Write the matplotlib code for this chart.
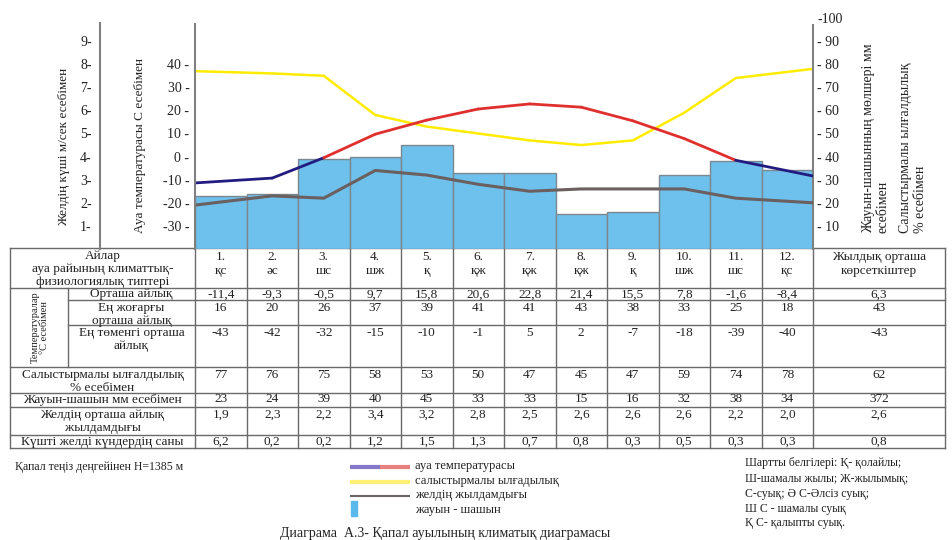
import numpy as np
import matplotlib.pyplot as plt
from matplotlib.patches import Rectangle

plt.rcParams['font.family'] = ['Liberation Serif', 'DejaVu Serif']

month_nums = ["1.", "2.", "3.", "4.", "5.", "6.", "7.", "8.", "9.", "10.", "11.", "12."]
month_types = ["қс", "әс", "шс", "шж", "қ", "қж", "қж", "қж", "қ", "шж", "шс", "қс"]
temp_mean = [-11.4, -9.3, -0.5, 9.7, 15.8, 20.6, 22.8, 21.4, 15.5, 7.8, -1.6, -8.4]
temp_max = [16, 20, 26, 37, 39, 41, 41, 43, 38, 33, 25, 18]
temp_min = [-43, -42, -32, -15, -10, -1, 5, 2, -7, -18, -39, -40]
humidity = [77, 76, 75, 58, 53, 50, 47, 45, 47, 59, 74, 78]
precip = [23, 24, 39, 40, 45, 33, 33, 15, 16, 32, 38, 34]
wind = [1.9, 2.3, 2.2, 3.4, 3.2, 2.8, 2.5, 2.6, 2.6, 2.6, 2.2, 2.0]
windy_days = [6.2, 0.2, 0.2, 1.2, 1.5, 1.3, 0.7, 0.8, 0.3, 0.5, 0.3, 0.3]
annual = [6.3, 43, -43, 62, 372, 2.6, 0.8]

temp_ticks = [-30, -20, -10, 0, 10, 20, 30, 40]
right_ticks = [10, 20, 30, 40, 50, 60, 70, 80, 90, 100]
wind_ticks = [1, 2, 3, 4, 5, 6, 7, 8, 9]

W, H = 952, 540
fig = plt.figure(figsize=(W / 100, H / 100), dpi=100)
TXT = '#222222'
GRID = '#6a6a6a'


def fmt(v, dec):
    return f"{v:.{dec}f}".replace('.', ',')


# overlay in pixel coords for the table and notes
ov = fig.add_axes([0, 0, 1, 1], zorder=0)
ov.set_xlim(0, W)
ov.set_ylim(H, 0)
ov.axis('off')

# chart area (pixels)
L, R, T, B = 195, 813, 18, 249
rect = [L / W, 1 - B / H, (R - L) / W, (B - T) / H]
x_bar = np.arange(12) + 0.5
x_line = x_bar.copy()
x_line[0], x_line[-1] = 0, 12

ax = fig.add_axes(rect, zorder=2)
ax.patch.set_alpha(0)
ax.set_xlim(0, 12)
ax.set_ylim(0, 100)
ax.bar(x_bar, precip, width=1, color='#6ec1ec', edgecolor='#7b8890', linewidth=1)
ax.plot(x_line, humidity, color='#ffec00', lw=1.8)
for s in ['top', 'bottom', 'left']:
    ax.spines[s].set_visible(False)
ax.spines['right'].set_bounds(0, 97)
ax.spines['right'].set_color('#808080')
ax.spines['right'].set_linewidth(1.5)
ax.yaxis.tick_right()
ax.set_yticks(right_ticks)
ax.set_yticklabels([f"- {v}" if v < 100 else f"-{v}" for v in right_ticks], fontsize=10, color=TXT)
ax.tick_params(axis='y', length=0, pad=3)
ax.set_xticks([])

# wind speed (own scale 0..10 on the same area)
ax_w = fig.add_axes(rect, zorder=3)
ax_w.patch.set_alpha(0)
ax_w.set_xlim(0, 12)
ax_w.set_ylim(0, 10)
ax_w.plot(x_line, wind, color='#6b5f5f', lw=2.2)
ax_w.axis('off')

# temperature
ax_t = fig.add_axes(rect, zorder=4)
ax_t.patch.set_alpha(0)
ax_t.set_xlim(0, 12)
ax_t.set_ylim(-40, 60)
for i in range(11):
    seg = temp_mean[i:i + 2]
    c = '#e0302e' if max(seg) > 0 else '#231c80'
    ax_t.plot(x_line[i:i + 2], seg, color=c, lw=2, solid_capstyle='round')
for s in ['top', 'bottom', 'right']:
    ax_t.spines[s].set_visible(False)
ax_t.spines['left'].set_bounds(-40, 57.4)
ax_t.spines['left'].set_color('#808080')
ax_t.spines['left'].set_linewidth(1.5)
ax_t.set_yticks(temp_ticks)
ax_t.set_yticklabels([f"{v} -" for v in temp_ticks], fontsize=10, color=TXT)
ax_t.tick_params(axis='y', length=0, pad=4)
ax_t.set_xticks([])

# separate wind axis at far left
ax_ws = fig.add_axes([100 / W, 1 - B / H, 0.0005, (B - T) / H], zorder=2)
ax_ws.patch.set_alpha(0)
ax_ws.set_ylim(0, 10)
for s in ['top', 'bottom', 'right']:
    ax_ws.spines[s].set_visible(False)
ax_ws.spines['left'].set_bounds(0, 9.78)
ax_ws.spines['left'].set_color('#808080')
ax_ws.spines['left'].set_linewidth(1.5)
ax_ws.set_yticks(wind_ticks)
ax_ws.set_yticklabels([f"{v}-" for v in wind_ticks], fontsize=10, color=TXT)
ax_ws.tick_params(axis='y', length=0, pad=6)
ax_ws.set_xticks([])

# axis titles
fig.text(64 / W, 1 - 147 / H, "Желдің күші м/сек есебімен", rotation=90,
         ha='center', va='center', fontsize=9.5, color=TXT)
fig.text(140 / W, 1 - 145 / H, "Ауа температурасы С есебімен", rotation=90,
         ha='center', va='center', fontsize=9.5, color=TXT)
fig.text(876 / W, 1 - 233 / H, "Жауын-шашынның мөлшері мм\nесебімен", rotation=90,
         ha='center', va='bottom', multialignment='left', fontsize=10, color=TXT, linespacing=1.1)
fig.text(913 / W, 1 - 233 / H, "Салыстырмалы ылғалдылық\n% есебімен", rotation=90,
         ha='center', va='bottom', multialignment='left', fontsize=10, color=TXT, linespacing=1.1)

# --- table ---
TL, TR = 10, 945
sub = 68
col_w = (R - L) / 12
col_edges = [L + k * col_w for k in range(13)]
row_edges = [248, 288, 300, 325, 367, 393, 407, 435, 448]

for i, y in enumerate(row_edges):
    x0 = sub if i in (2, 3) else TL
    ov.plot([x0, TR], [y, y], color=GRID, lw=1)
for x in [TL] + col_edges + [TR]:
    ov.plot([x, x], [row_edges[0], row_edges[-1]], color=GRID, lw=1)
ov.plot([sub, sub], [row_edges[1], row_edges[4]], color=GRID, lw=1)

tfs = 9.5
ov.text((TL + L) / 2, row_edges[0] + 2, "Айлар\nауа райының климаттық-\nфизиологиялық типтері",
        ha='center', va='top', fontsize=tfs, color=TXT, linespacing=1.1)
for k in range(12):
    ov.text(L + (k + 0.5) * col_w, row_edges[0] + 3, f"{month_nums[k]}\n{month_types[k]}",
            ha='center', va='top', fontsize=tfs, color=TXT, linespacing=1.2)
ov.text((R + TR) / 2, row_edges[0] + 3, "Жылдық орташа\nкөрсеткіштер",
        ha='center', va='top', fontsize=tfs, color=TXT, linespacing=1.2)

ov.text((TL + sub) / 2 + 1, (row_edges[1] + row_edges[4]) / 2, "Температуралар\n°С есебімен",
        rotation=90, ha='center', va='center', fontsize=7.5, color=TXT, linespacing=1.1)

row_labels = ["Орташа айлық", "Ең жоғарғы\nорташа айлық", "Ең төменгі орташа\nайлық",
              "Салыстырмалы ылғалдылық\n% есебімен", "Жауын-шашын мм есебімен",
              "Желдің орташа айлық\nжылдамдығы", "Күшті желді күндердің саны"]
row_data = [(temp_mean, 1), (temp_max, 0), (temp_min, 0), (humidity, 0),
            (precip, 0), (wind, 1), (windy_days, 1)]

for r, (lab, (vals, dec)) in enumerate(zip(row_labels, row_data)):
    top = row_edges[r + 1]
    off = 0.5 if r in (0, 4, 6) else 2
    lx = (sub + L) / 2 if r < 3 else (TL + L) / 2
    ov.text(lx, top + off, lab, ha='center', va='top', fontsize=tfs, color=TXT, linespacing=1.1)
    for k, v in enumerate(vals):
        ov.text(L + (k + 0.5) * col_w, top + off, fmt(v, dec), ha='center', va='top',
                fontsize=tfs, color=TXT)
    ov.text((R + TR) / 2, top + off, fmt(annual[r], dec), ha='center', va='top',
            fontsize=tfs, color=TXT)

# --- notes and legend ---
ov.text(15, 467, "Қапал теңіз деңгейінен Н=1385 м", ha='left', va='center', fontsize=8.5, color=TXT)

ov.plot([350, 380], [467, 467], color='#8577c9', lw=3, solid_capstyle='butt')
ov.plot([380, 410], [467, 467], color='#e88080', lw=3, solid_capstyle='butt')
ov.plot([350, 410], [482, 482], color='#fff176', lw=3, solid_capstyle='butt')
ov.plot([350, 410], [496, 496], color='#6e6262', lw=1.5, solid_capstyle='butt')
ov.add_patch(Rectangle((351, 501), 6, 15, color='#5ab8ec'))
for y, t in zip([466, 481, 495, 510],
                ["ауа температурасы", "салыстырмалы ылғадылық", "желдің жылдамдығы", "жауын - шашын"]):
    ov.text(415, y, t, ha='left', va='center', fontsize=9, color=TXT)

notes = ["Шартты белгілері: Қ- қолайлы;", "Ш-шамалы жылы; Ж-жылымық;", "С-суық; Ә С-Әлсіз суық;",
         "Ш С - шамалы суық", "Қ С- қалыпты суық."]
for y, t in zip([463, 479, 494, 509, 523], notes):
    ov.text(745, y, t, ha='left', va='center', fontsize=8.5, color=TXT)

ov.text(445, 533, "Диаграма  А.3- Қапал ауылының климатық диаграмасы", ha='center', va='center',
        fontsize=10, color=TXT)

plt.savefig('out.png', dpi=100, facecolor='white')
